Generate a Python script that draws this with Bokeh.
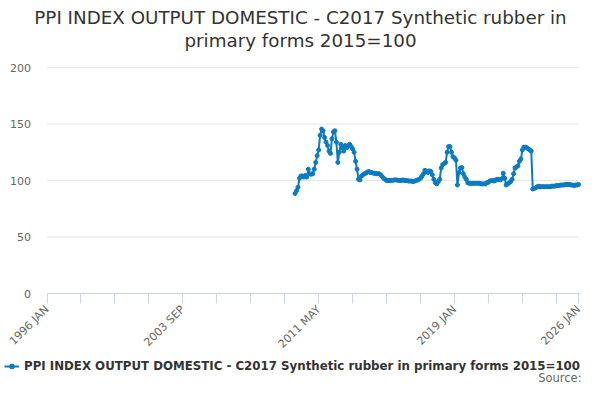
import math
from bokeh.plotting import figure
from bokeh.models import (ColumnDataSource, FixedTicker, Label, Legend, LegendItem,
                          Range1d)
from bokeh.embed import file_html
from bokeh.resources import INLINE

MONTH_NAMES = ["JAN", "FEB", "MAR", "APR", "MAY", "JUN",
               "JUL", "AUG", "SEP", "OCT", "NOV", "DEC"]
categories = [f"{y} {m}" for y in range(1996, 2027) for m in MONTH_NAMES][:361]

series_start = "2010 JAN"
values = [
    88.5, 91, 94, 102, 104, 104, 103, 104.5, 103, 110, 106, 105.5,
    106, 110, 116, 122, 127, 140, 145.5, 144, 138, 134, 131, 126,
    124, 137, 143, 144, 134, 116, 125, 132, 129, 126, 131, 129,
    131, 132, 130, 128, 125, 117, 110, 101, 100.5, 104, 105, 106,
    106.5, 107.5, 108, 107, 107, 106.5, 106.5, 106, 106, 106, 105, 103.5,
    102, 101, 100, 100, 100, 100, 100, 100.5, 100.5, 100.5, 100, 100,
    100, 100.5, 100, 100, 100, 99.5, 99.5, 99.5, 99, 99.5, 100, 100.5,
    101, 102, 104, 106, 109, 108, 107, 108.5, 108, 105, 101, 98,
    97, 99, 101, 111, 114, 115, 116, 125, 130, 130, 125, 121,
    120, 118, 96, 107, 111, 111.5, 106, 103, 101, 98, 97.5, 97.5,
    97.5, 97.5, 97.5, 97.5, 97.5, 97.5, 97, 97, 97, 97, 98, 98.5,
    99.5, 100, 100, 99.5, 100.5, 101, 101, 100.5, 101.5, 106.5, 102, 96,
    97, 98, 99, 101, 106, 111, 112, 113, 117, 119, 127, 129.5,
    129.5, 129, 128, 127, 126, 92.5, 93, 93.5, 94.5, 95, 94.5, 94.5,
    94.5, 94.5, 94.5, 94.5, 94.5, 94.5, 95, 95, 95, 95.5, 95.5, 95.5,
    96, 96, 96, 96.5, 96.5, 96.5, 96.5, 96, 96, 95.5, 96, 96,
    96.5,
]

tick_step = 23
labelled_ticks = ["1996 JAN", "2003 SEP", "2011 MAY", "2019 JAN", "2026 JAN"]
y_ticks = [0, 50, 100, 150, 200]

series_name = "PPI INDEX OUTPUT DOMESTIC - C2017 Synthetic rubber in primary forms 2015=100"
title_lines = ["PPI INDEX OUTPUT DOMESTIC - C2017 Synthetic rubber in",
               "primary forms 2015=100"]
source_text = "Source:"

COLOR = "#0a7bc2"
FONT = "DejaVu Sans"

# ---- canvas geometry (pixels from top-left) ----
W, H = 584, 384
PLOT_LEFT, PLOT_RIGHT = 46.5, 578.0
PLOT_TOP, PLOT_BOTTOM = 67.0, 293.0
n_last = len(categories) - 1
y_min, y_max = y_ticks[0], y_ticks[-1]

bx = (PLOT_RIGHT - PLOT_LEFT) / n_last
by = (PLOT_BOTTOM - PLOT_TOP) / (y_max - y_min)
x_range = Range1d(-PLOT_LEFT / bx, (W - PLOT_LEFT) / bx)
y_range = Range1d(y_min - (H - PLOT_BOTTOM) / by, y_min + PLOT_BOTTOM / by)

start_idx = categories.index(series_start)
xs = [start_idx + i for i in range(len(values))]
src = ColumnDataSource(dict(x=xs, y=values))

p = figure(width=W, height=H, output_backend="svg", toolbar_location=None,
           x_range=x_range, y_range=y_range, min_border=0)
p.outline_line_color = None
p.background_fill_color = "white"
p.border_fill_color = "white"
p.xgrid.visible = False
p.ygrid.visible = False

# horizontal grid lines at the y ticks, across the category span
p.segment(x0=[0] * len(y_ticks), x1=[n_last] * len(y_ticks), y0=y_ticks,
          y1=y_ticks, line_color="#e6e6e6", line_width=1, level="underlay")

line_r = p.line("x", "y", source=src, line_color=COLOR, line_width=2)
dot_r = p.scatter("x", "y", source=src, size=4, fill_color=COLOR,
                  line_color=COLOR)

# x axis, pinned at y = 0
ticks = list(range(0, len(categories), tick_step))
if ticks[-1] != n_last:
    ticks.append(n_last)
xa = p.xaxis[0]
xa.fixed_location = y_min
xa.bounds = (0, n_last)
xa.ticker = FixedTicker(ticks=ticks)
xa.major_label_overrides = {
    t: (categories[t] if categories[t] in labelled_ticks else "") for t in ticks}
xa.major_label_orientation = math.pi / 4
xa.axis_line_color = "#ccd6eb"
xa.major_tick_line_color = "#ccd6eb"
xa.major_tick_out = 10
xa.major_tick_in = 0
xa.minor_tick_line_color = None
xa.major_label_standoff = 4
xa.major_label_text_font = FONT
xa.major_label_text_font_size = "11px"
xa.major_label_text_color = "#666666"

# y axis, pinned at the first category
ya = p.yaxis[0]
ya.fixed_location = 0
ya.ticker = FixedTicker(ticks=y_ticks)
ya.axis_line_color = None
ya.major_tick_line_color = None
ya.minor_tick_line_color = None
ya.major_tick_out = 0
ya.major_tick_in = 0
ya.major_label_standoff = 16
ya.major_label_text_font = FONT
ya.major_label_text_font_size = "11px"
ya.major_label_text_color = "#666666"

# title (screen units: from the bottom-left of the canvas)
for line, base_y in zip(title_lines, [17, 40]):
    p.add_layout(Label(x=300, y=H - base_y, x_units="screen", y_units="screen",
                       text=line, text_align="center", text_baseline="alphabetic",
                       text_font=FONT, text_font_size="18.3px",
                       text_color="#333333"))

legend = Legend(items=[LegendItem(label=series_name, renderers=[line_r, dot_r])],
                location=(4, 11), orientation="horizontal",
                label_text_font=FONT, label_text_font_size="11.8px",
                label_text_font_style="bold", label_text_color="#333333",
                glyph_width=15, glyph_height=12, label_standoff=5,
                border_line_color=None, background_fill_alpha=0,
                padding=0, margin=0, spacing=0)
p.add_layout(legend)

p.add_layout(Label(x=581, y=0, x_units="screen", y_units="screen",
                   text=source_text, text_align="right", text_baseline="bottom",
                   text_font=FONT, text_font_size="11.5px", text_color="#666666"))

open("out.html", "w").write(file_html(p, INLINE))
